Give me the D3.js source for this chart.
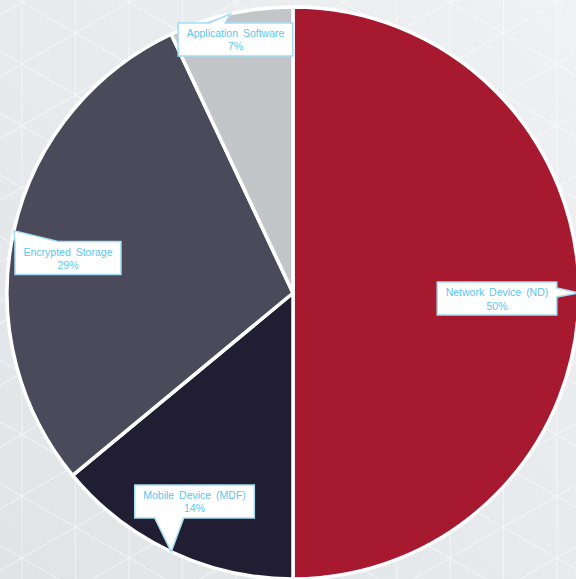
<!DOCTYPE html>
<html>
<head>
<meta charset="utf-8">
<script src="https://cdn.jsdelivr.net/npm/d3@7"></script>
<style>
  html, body { margin: 0; padding: 0; background: #e6e9eb; }
  #chart { width: 576px; height: 579px; }
  svg { display: block; font-family: "Liberation Sans", Arial, sans-serif; }
</style>
</head>
<body>
<div id="chart"></div>
<script>
// slice order: clockwise from 12 o'clock
const categories = ['Network Device (ND)', 'Mobile Device (MDF)', 'Encrypted Storage', 'Application Software'];
const shares = [50, 14, 29, 7];
const sliceColors = ['#a6192e', '#211d33', '#4b4a5b', '#c3c6c8'];

// callout placement: box centre offset from anchor, side the pointer leaves from, pointer base (relative to box edge)
const labelLayout = [
  { dx: -82, dy: 5.5, side: 'right', base: [6, 15] },
  { dx: 23.3, dy: -50.3, side: 'bottom', base: [20, 49] },
  { dx: 54.1, dy: 27.4, side: 'top', base: [0, 43] },
  { dx: 4.9, dy: 25.6, side: 'top', base: [31, 47] }
];

const W = 576, H = 579;
const cx = 293, cy = 293, R = 286;

const svg = d3.select('#chart').append('svg')
  .attr('width', W)
  .attr('height', H)
  .attr('viewBox', `0 0 ${W} ${H}`);

// background: soft gradient + faint triangular lattice
const defs = svg.append('defs');
const grad = defs.append('linearGradient').attr('id', 'bg')
  .attr('x1', '100%').attr('y1', '0%').attr('x2', '0%').attr('y2', '100%');
grad.append('stop').attr('offset', '0%').attr('stop-color', '#eff1f3');
grad.append('stop').attr('offset', '100%').attr('stop-color', '#e0e4e6');
svg.append('rect').attr('width', W).attr('height', H).attr('fill', 'url(#bg)');

const lattice = svg.append('g')
  .attr('stroke', '#ffffff')
  .attr('stroke-opacity', 0.45)
  .attr('stroke-width', 1.1);
const colW = 53.5, rowH = 61.75, slope = 0.5775;
d3.range(-1, 12).forEach(i => {
  const x = 22 + colW * i;
  lattice.append('line').attr('x1', x).attr('x2', x).attr('y1', 0).attr('y2', H);
});
d3.range(-14, 14).forEach(k => {
  [slope, -slope].forEach(m => {
    const y0 = 64 + m * (0 - 22) + rowH * k;
    const y1 = 64 + m * (W - 22) + rowH * k;
    lattice.append('line').attr('x1', 0).attr('y1', y0).attr('x2', W).attr('y2', y1);
  });
});

// pie
const pie = d3.pie().sort(null).value(d => d.value);
const arcs = pie(categories.map((c, i) => ({ name: c, value: shares[i], color: sliceColors[i], layout: labelLayout[i] })));
const arc = d3.arc().innerRadius(0).outerRadius(R);

const g = svg.append('g').attr('transform', `translate(${cx},${cy})`);
g.selectAll('path.slice')
  .data(arcs)
  .enter().append('path')
  .attr('class', 'slice')
  .attr('d', arc)
  .attr('fill', d => d.data.color)
  .attr('stroke', '#ffffff')
  .attr('stroke-width', 3.5)
  .attr('stroke-linejoin', 'round');

// callout labels
const total = d3.sum(shares);
const tipR = R;

function calloutPath(x0, y0, x1, y1, tx, ty, side, base) {
  let pts;
  if (side === 'top') {
    pts = [[x0, y0], [x0 + base[0], y0], [tx, ty], [x0 + base[1], y0], [x1, y0], [x1, y1], [x0, y1]];
  } else if (side === 'right') {
    pts = [[x0, y0], [x1, y0], [x1, y0 + base[0]], [tx, ty], [x1, y0 + base[1]], [x1, y1], [x0, y1]];
  } else if (side === 'bottom') {
    pts = [[x0, y0], [x1, y0], [x1, y1], [x0 + base[1], y1], [tx, ty], [x0 + base[0], y1], [x0, y1]];
  } else {
    pts = [[x0, y0], [x1, y0], [x1, y1], [x0, y1], [x0, y0 + base[1]], [tx, ty], [x0, y0 + base[0]]];
  }
  return 'M' + pts.map(p => p.join(',')).join('L') + 'Z';
}

const labels = svg.append('g');
arcs.forEach(d => {
  const mid = (d.startAngle + d.endAngle) / 2;
  const ax = cx + tipR * Math.sin(mid);
  const ay = cy - tipR * Math.cos(mid);
  const L = d.data.layout;
  const bx = ax + L.dx, by = ay + L.dy;

  const lg = labels.append('g');
  const shape = lg.append('path');
  const t1 = lg.append('text')
    .attr('x', bx).attr('y', by - 6.5)
    .attr('text-anchor', 'middle')
    .attr('dominant-baseline', 'central')
    .attr('fill', '#5cc6ee')
    .style('font-size', '10.5px')
    .style('word-spacing', '2px')
    .text(d.data.name);
  lg.append('text')
    .attr('x', bx).attr('y', by + 7)
    .attr('text-anchor', 'middle')
    .attr('dominant-baseline', 'central')
    .attr('fill', '#5cc6ee')
    .style('font-size', '10.5px')
    .text(Math.round(d.data.value / total * 100) + '%');

  const tw = t1.node().getComputedTextLength();
  const bw = tw + 17, bh = 33;
  const x0 = bx - bw / 2, y0 = by - bh / 2;
  shape.attr('d', calloutPath(x0, y0, x0 + bw, y0 + bh, ax, ay, L.side, L.base))
    .attr('fill', '#ffffff')
    .attr('stroke', '#a3ddf4')
    .attr('stroke-width', 1.5)
    .attr('stroke-linejoin', 'miter');
});
</script>
</body>
</html>
